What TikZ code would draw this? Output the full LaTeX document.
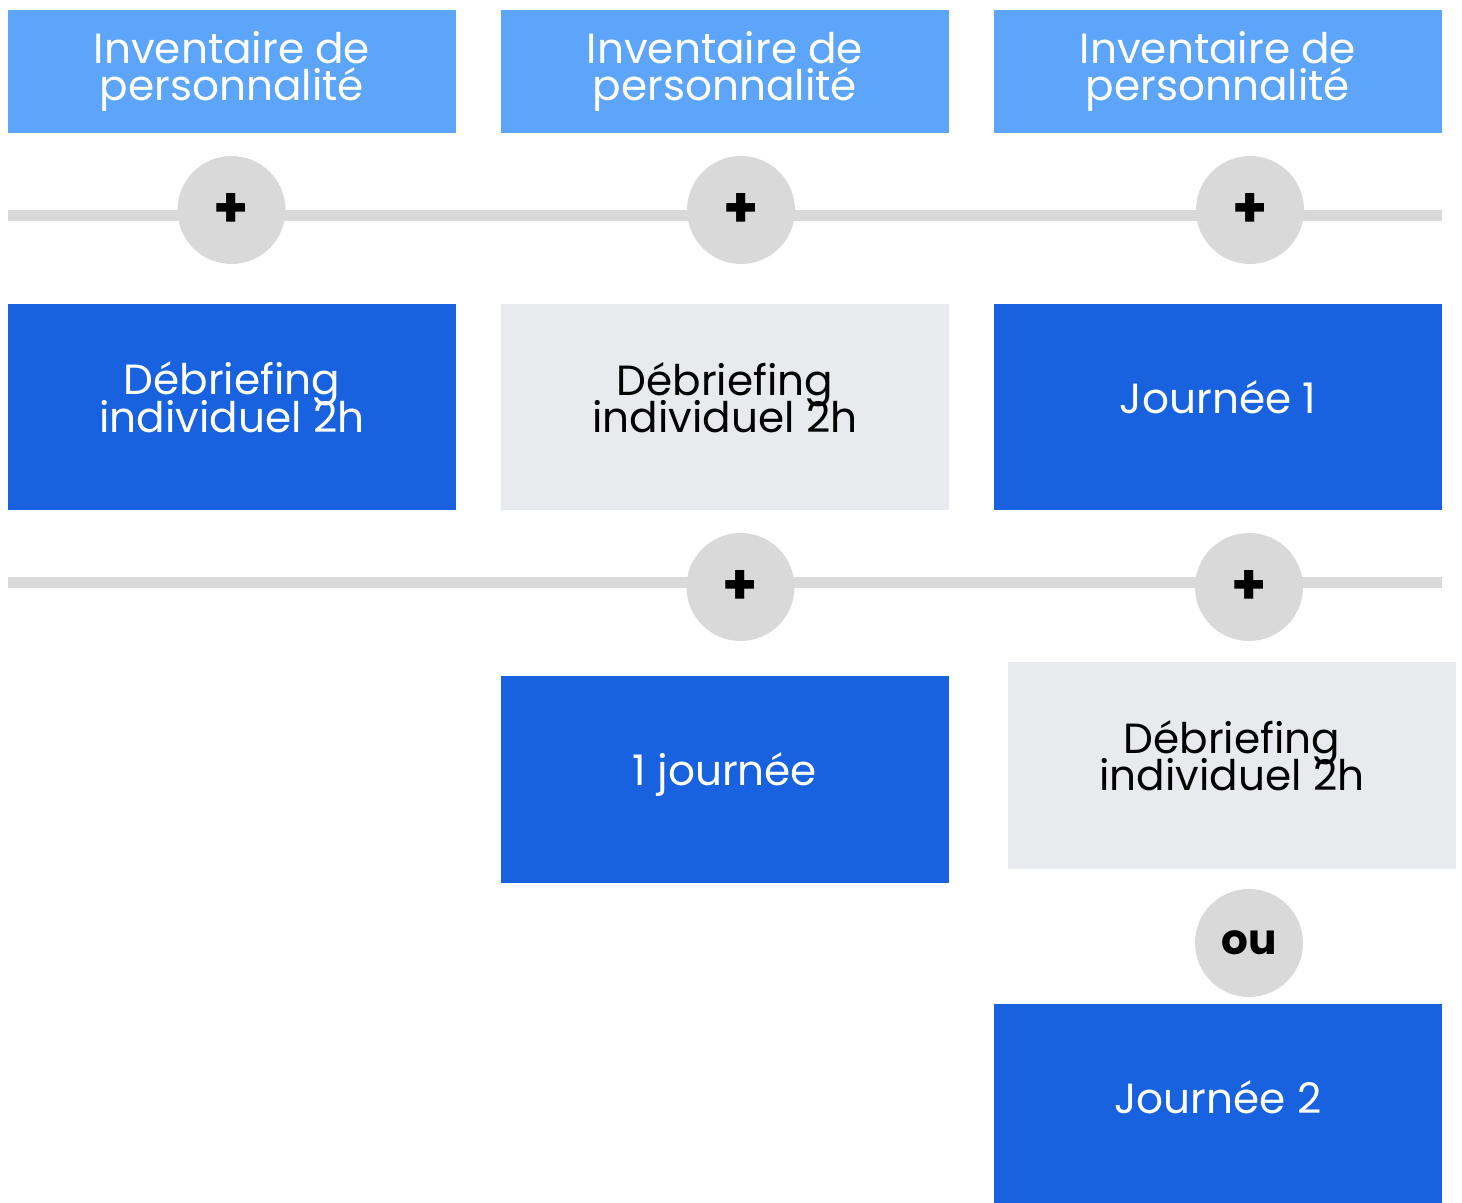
\documentclass[tikz,border=0pt]{standalone}
\usepackage{fontspec}
\setmainfont{Poppins}
\usetikzlibrary{positioning}
\definecolor{ltblue}{RGB}{92,165,250}
\definecolor{dkblue}{RGB}{24,98,224}
\definecolor{palegrey}{RGB}{233,234,238}
\definecolor{opgrey}{RGB}{217,217,217}
\newcommand{\boxfont}{\fontsize{24}{21.5}\selectfont\lineskiplimit=-20pt\relax}

\begin{document}
\begin{tikzpicture}[x=0.2mm,y=-0.2mm,
   box/.style={inner sep=0pt,minimum width=89.6mm,align=center,font=\boxfont},
   inv/.style={box,fill=ltblue,text=white,minimum height=24.6mm},
   dark/.style={box,fill=dkblue,text=white,minimum height=41.2mm,text depth=4mm},
   pale/.style={box,fill=palegrey,text=black,minimum height=41.2mm,text depth=4mm},
   op/.style={circle,fill=opgrey,minimum size=21.6mm,inner sep=0pt,
     font=\bfseries\fontsize{24}{24}\selectfont},
   plus/.style={op,font=\bfseries\fontsize{32}{32}\selectfont},
   bar/.style={opgrey,line width=2.2mm}]
  \useasboundingbox (0,0) rectangle (1462,1203);
  \node[inv] (inv1) at (232,71.5) {Inventaire de\\personnalité};
  \node[inv] (inv2) at (725,71.5) {Inventaire de\\personnalité};
  \node[inv] (inv3) at (1218,71.5) {Inventaire de\\personnalité};
  \coordinate (w1) at (8,215.5); \coordinate (e1) at (1442,215.5);
  \draw[bar] (w1)--(e1);
  \node[plus] (p1) at (231.5,210) {+};
  \node[plus] (p2) at (741,210) {+};
  \node[plus] (p3) at (1250,210) {+};
  \node[dark] (deb1) at (232,407) {Débriefing\\individuel 2h};
  \node[pale] (deb2) at (725,407.5) {Débriefing\\individuel 2h};
  \node[dark] (jour1) at (1218,407.5) {Journée 1};
  \coordinate (w2) at (8,582.5); \coordinate (e2) at (1442,582.5);
  \draw[bar] (w2)--(e2);
  \node[plus] (p4) at (740.5,587) {+};
  \node[plus] (p5) at (1249,587) {+};
  \node[dark] (jour) at (725,779.5) {1 journée};
  \node[pale] (deb3) at (1232,765.5) {Débriefing\\individuel 2h};
  \node[op] (ou) at (1249,943) {ou};
  \node[dark] (jour2) at (1218,1107) {Journée 2};
\end{tikzpicture}
\end{document}
